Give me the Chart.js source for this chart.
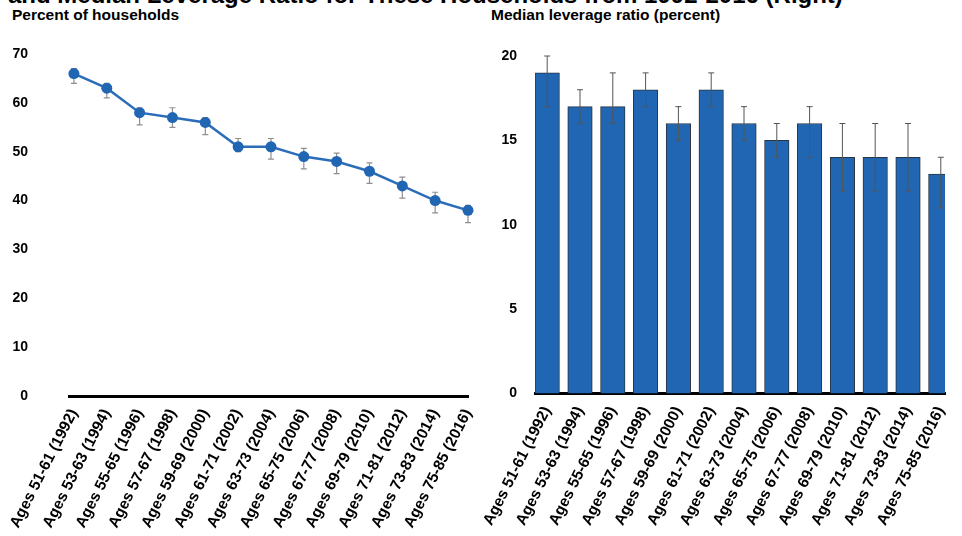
<!DOCTYPE html>
<html>
<head>
<meta charset="utf-8">
<script src="https://cdn.jsdelivr.net/npm/chart.js@4/dist/chart.umd.min.js"></script>
<style>
  html, body { margin: 0; padding: 0; background: #fff; }
  body { width: 962px; height: 536px; position: relative; overflow: hidden; font-family: 'Liberation Sans', Arial, sans-serif; }
  .title { position: absolute; left: 8px; top: -17px; font-size: 24px; font-weight: bold; line-height: 24px; white-space: nowrap; color: #000; }
  .sub { position: absolute; top: 6px; font-size: 15.5px; font-weight: bold; color: #000; white-space: nowrap; }
  .panel { position: absolute; top: 0; height: 536px; }
</style>
</head>
<body>
<div class="title">and Median Leverage Ratio for These Households from 1992-2016 (Right)</div>
<div class="sub" style="left:12px">Percent of households</div>
<div class="sub" style="left:491px">Median leverage ratio (percent)</div>
<div class="panel" style="left:0;width:480px"><canvas id="shareChart"></canvas></div>
<div class="panel" style="left:480px;width:482px"><canvas id="leverageChart"></canvas></div>

<script>
const ageGroups = [
  'Ages 51-61 (1992)', 'Ages 53-63 (1994)', 'Ages 55-65 (1996)', 'Ages 57-67 (1998)',
  'Ages 59-69 (2000)', 'Ages 61-71 (2002)', 'Ages 63-73 (2004)', 'Ages 65-75 (2006)',
  'Ages 67-77 (2008)', 'Ages 69-79 (2010)', 'Ages 71-81 (2012)', 'Ages 73-83 (2014)',
  'Ages 75-85 (2016)'
];

// share of households with debt, with confidence bounds
const pctHouseholds = [66, 63, 58, 57, 56, 51, 51, 49, 48, 46, 43, 40, 38];
const pctLow        = [64, 61, 55.5, 55, 53.5, 50, 48.5, 46.5, 45.5, 43.5, 40.5, 37.5, 35.5];
const pctHigh       = [67, 64, 59, 59, 57, 52.7, 52.7, 50.7, 49.7, 47.7, 44.8, 41.7, 39];

// median leverage ratio, with confidence bounds
const leverage = [19, 17, 17, 18, 16, 18, 16, 15, 16, 14, 14, 14, 13];
const levLow   = [17, 16, 16, 17, 15, 17, 15, 14, 14, 12, 12, 12, 11];
const levHigh  = [20, 18, 19, 19, 17, 19, 17, 16, 17, 16, 16, 16, 14];

const FONT = "'Liberation Sans', Arial, sans-serif";
const BLUE = '#2066B3';

// x runs over the group index so the axis can start a little before the first group
const asPoints = values => values.map((v, i) => ({ x: i, y: v }));

// whiskers drawn from each dataset's low/high arrays through the chart scales
const errorBars = {
  id: 'errorBars',
  draw(chart, opts) {
    const { ctx } = chart;
    const y = chart.scales.y;
    chart.data.datasets.forEach((ds, di) => {
      if (!ds.low) return;
      const meta = chart.getDatasetMeta(di);
      ctx.save();
      ctx.strokeStyle = opts.color;
      ctx.lineWidth = opts.width;
      meta.data.forEach((el, i) => {
        const x = el.x;
        if (x > chart.chartArea.right + 1) return;
        const y1 = y.getPixelForValue(ds.low[i]);
        const y2 = y.getPixelForValue(ds.high[i]);
        ctx.beginPath();
        ctx.moveTo(x, y1); ctx.lineTo(x, y2);
        ctx.moveTo(x - opts.cap, y1); ctx.lineTo(x + opts.cap, y1);
        ctx.moveTo(x - opts.cap, y2); ctx.lineTo(x + opts.cap, y2);
        ctx.stroke();
      });
      ctx.restore();
    });
  },
  beforeDatasetsDraw(chart, args, opts) { if (opts.behind) this.draw(chart, opts); },
  afterDatasetsDraw(chart, args, opts) { if (!opts.behind) this.draw(chart, opts); },
};

function xAxis(min, max, height) {
  return {
    type: 'linear', min, max, bounds: 'data', offset: false,
    grid: { display: false, drawTicks: false, offset: false },
    border: { color: '#000', width: 3 },
    ticks: {
      autoSkip: false, minRotation: 63, maxRotation: 63, padding: 10,
      color: '#000', font: { family: FONT, size: 15.5, weight: 'bold' },
      callback: v => ageGroups[v],
    },
    // one tick per age group
    afterBuildTicks(scale) { scale.ticks = ageGroups.map((_, i) => ({ value: i })); },
    afterFit(scale) {
      scale.height = height;
      scale.paddingLeft = 0;
      scale.paddingRight = 0;
    },
  };
}

function yAxis(max, step, width, pad) {
  return {
    min: 0, max,
    grid: { display: false, drawTicks: false },
    border: { display: false },
    ticks: { stepSize: step, padding: pad, color: '#000', font: { family: FONT, size: 14, weight: 'bold' } },
    afterFit(scale) { scale.width = width; },
  };
}

new Chart(document.getElementById('shareChart'), {
  type: 'line',
  data: {
    datasets: [{
      data: asPoints(pctHouseholds), low: pctLow, high: pctHigh,
      borderColor: '#2B6DB8', borderWidth: 2.5,
      pointRadius: 5.5, pointBackgroundColor: BLUE, pointBorderColor: BLUE, pointBorderWidth: 0,
      tension: 0, clip: false,
    }],
  },
  options: {
    responsive: true, maintainAspectRatio: false, animation: false,
    layout: { padding: { left: 10, right: 12, top: 54, bottom: 0 } },
    plugins: {
      legend: { display: false }, tooltip: { enabled: false },
      errorBars: { color: '#8f8f8f', width: 1.2, cap: 3, behind: true },
    },
    scales: { x: xAxis(-0.15, 12, 140), y: yAxis(70, 10, 59, 41) },
  },
  plugins: [errorBars],
});

new Chart(document.getElementById('leverageChart'), {
  type: 'bar',
  data: {
    datasets: [{
      data: asPoints(leverage), low: levLow, high: levHigh,
      backgroundColor: BLUE, borderColor: '#2a3442', borderWidth: 1,
      barThickness: 24.5,
    }],
  },
  options: {
    responsive: true, maintainAspectRatio: false, animation: false,
    layout: { padding: { left: 10, right: 17, top: 56, bottom: 0 } },
    plugins: {
      legend: { display: false }, tooltip: { enabled: false },
      errorBars: { color: '#555', width: 1, cap: 3, behind: false },
    },
    scales: { x: xAxis(-0.372, 12.128, 142.5), y: yAxis(20, 5, 45, 18) },
  },
  plugins: [errorBars],
});
</script>
</body>
</html>
